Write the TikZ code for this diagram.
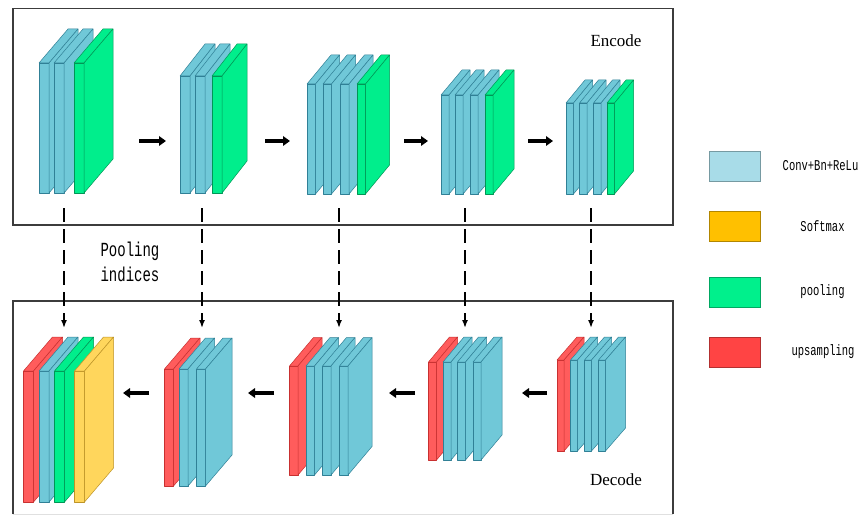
\documentclass[tikz,border=0pt]{standalone}
\usepackage{fontspec}
\setmainfont{Liberation Serif}
\newfontfamily\keyfont{Liberation Mono}
\usetikzlibrary{arrows.meta}

% slab colours
\definecolor{convfill}{RGB}{112,200,216}
\definecolor{convline}{RGB}{48,128,150}
\definecolor{poolfill}{RGB}{0,238,140}
\definecolor{poolline}{RGB}{0,150,85}
\definecolor{upfill}{RGB}{255,92,92}
\definecolor{upline}{RGB}{200,48,48}
\definecolor{softfill}{RGB}{255,214,92}
\definecolor{softline}{RGB}{190,148,40}
% legend colours
\definecolor{keyconv}{RGB}{168,220,232}
\definecolor{keysoft}{RGB}{255,192,0}
\definecolor{keypool}{RGB}{0,240,140}
\definecolor{keyup}{RGB}{255,68,68}
\definecolor{framecol}{RGB}{60,60,60}

\tikzset{
  slabedge/.style={line width=0.5pt, line join=round},
  conv/.style={fill=convfill, draw=convline},
  pool/.style={fill=poolfill, draw=poolline},
  upsm/.style={fill=upfill, draw=upline},
  soft/.style={fill=softfill, draw=softline},
  frame/.style={draw=framecol, line width=1.2pt},
  flow/.style={line width=3.4pt, -{Triangle[length=7pt,width=9.5pt]}},
  indexline/.style={line width=1.5pt, dash pattern=on 14pt off 7pt, -{Latex[length=8pt,width=6pt]}},
  keybox/.style={draw=#1!70!black, fill=#1, line width=0.6pt, minimum width=51pt, minimum height=30pt, inner sep=0pt},
  title/.style={font=\fontsize{17}{17}\selectfont, inner sep=0pt},
  keylabel/.style={inner sep=0pt, align=center},
}

% a thin slab: front face, top face and right face
% #1 left x, #2 thickness, #3 top y, #4 bottom y, #5 depth dx, #6 depth dy, #7 style
\newcommand\drawslab[7]{%
  \filldraw[slabedge,#7] (#1,#3) -- (#1+#2,#3) -- (#1+#2,#4) -- (#1,#4) -- cycle;
  \filldraw[slabedge,#7] (#1,#3) -- ++(#5,-#6) -- ++(#2,0) -- (#1+#2,#3) -- cycle;
  \filldraw[slabedge,#7] (#1+#2,#3) -- ++(#5,-#6) -- ++(0,#4-#3) -- (#1+#2,#4) -- cycle;
}
\newcommand\keytext[2]{\scalebox{0.7}[1]{\keyfont\fontsize{#1}{#1}\selectfont #2}}

\begin{document}
\begin{tikzpicture}[x=1pt,y=-1pt]
\useasboundingbox (0,0) rectangle (862,516);
\fill[white] (0,0) rectangle (862,516);

% frames
\draw[frame] (13,8.5) rectangle (673,225);
\draw[frame] (13,514) -- (13,301) -- (673,301) -- (673,514);
\draw[draw=black!12, line width=1pt] (13,514) -- (673,514);

% ---------- encoder ----------
\drawslab{39}{10}{63}{193}{29}{34}{conv}
\drawslab{54}{10}{63}{193}{29}{34}{conv}
\drawslab{74}{10}{63}{193}{29}{34}{pool}

\drawslab{180}{10}{76}{193}{25}{32}{conv}
\drawslab{195}{10}{76}{193}{25}{32}{conv}
\drawslab{212}{10}{76}{193}{25}{32}{pool}

\drawslab{307}{8.5}{84}{194}{24}{29}{conv}
\drawslab{323}{8.5}{84}{194}{24}{29}{conv}
\drawslab{340.5}{8.5}{84}{194}{24}{29}{conv}
\drawslab{357}{8.5}{84}{194}{24}{29}{pool}

\drawslab{441}{8}{95}{194}{21}{25}{conv}
\drawslab{455}{8}{95}{194}{21}{25}{conv}
\drawslab{470}{8}{95}{194}{21}{25}{conv}
\drawslab{485}{8}{95}{194}{21}{25}{pool}

\drawslab{566}{7.5}{103}{194}{19}{23}{conv}
\drawslab{579.5}{7.5}{103}{194}{19}{23}{conv}
\drawslab{593.5}{7.5}{103}{194}{19}{23}{conv}
\drawslab{607}{7.5}{103}{194}{19}{23}{pool}

% ---------- decoder ----------
\drawslab{23.5}{10}{371}{502}{29}{34}{upsm}
\drawslab{39}{10}{371}{502}{29}{34}{conv}
\drawslab{54.5}{10}{371}{502}{29}{34}{pool}
\drawslab{74.5}{10}{371}{502}{29}{34}{soft}

\drawslab{164.5}{9}{369}{486}{26.5}{31}{upsm}
\drawslab{179}{9}{369}{486}{26.5}{31}{conv}
\drawslab{196.5}{9}{369}{486}{26.5}{31}{conv}

\drawslab{289.5}{8.5}{366}{475}{24}{28.5}{upsm}
\drawslab{306}{8.5}{366}{475}{24}{28.5}{conv}
\drawslab{322.5}{8.5}{366}{475}{24}{28.5}{conv}
\drawslab{339.5}{8.5}{366}{475}{24}{28.5}{conv}

\drawslab{428.5}{8}{362}{460}{21}{25}{upsm}
\drawslab{443}{8}{362}{460}{21}{25}{conv}
\drawslab{457.5}{8}{362}{460}{21}{25}{conv}
\drawslab{473}{8}{362}{460}{21}{25}{conv}

\drawslab{557}{7}{360}{451}{20}{23}{upsm}
\drawslab{570.5}{7}{360}{451}{20}{23}{conv}
\drawslab{584.5}{7}{360}{451}{20}{23}{conv}
\drawslab{598.5}{7}{360}{451}{20}{23}{conv}

% ---------- flow arrows ----------
\coordinate (e1o) at (139,141); \coordinate (e2i) at (166,141);
\coordinate (e2o) at (265,141); \coordinate (e3i) at (290,141);
\coordinate (e3o) at (404,141); \coordinate (e4i) at (428,141);
\coordinate (e4o) at (528,141); \coordinate (e5i) at (553,141);
\draw[flow] (e1o) -- (e2i);
\draw[flow] (e2o) -- (e3i);
\draw[flow] (e3o) -- (e4i);
\draw[flow] (e4o) -- (e5i);

\coordinate (d5o) at (547,393); \coordinate (d4i) at (522,393);
\coordinate (d4o) at (415,393); \coordinate (d3i) at (389,393);
\coordinate (d3o) at (274,393); \coordinate (d2i) at (248,393);
\coordinate (d2o) at (149,393); \coordinate (d1i) at (123,393);
\draw[flow] (d5o) -- (d4i);
\draw[flow] (d4o) -- (d3i);
\draw[flow] (d3o) -- (d2i);
\draw[flow] (d2o) -- (d1i);

% ---------- pooling indices ----------
\foreach \k/\px in {1/64, 2/202, 3/339, 4/465, 5/591}{
  \coordinate (enc\k) at (\px,208);
  \coordinate (dec\k) at (\px,328);
  \draw[indexline] (enc\k) -- (dec\k);
}

% ---------- texts ----------
\node[title] (enctitle) at (616,41) {Encode};
\node[title] (dectitle) at (616,480) {Decode};
\node[keylabel] (pidx) at (130,262) {\keytext{20}{Pooling}\\[5pt]\keytext{20}{indices}};

% ---------- legend ----------
\node[keybox=keyconv] (kconv) at (734.5,166) {};
\node[keybox=keysoft] (ksoft) at (734.5,226) {};
\node[keybox=keypool] (kpool) at (734.5,292) {};
\node[keybox=keyup]   (kup)   at (734.5,352) {};
\node[keylabel] (lconv) at (820.5,165.5) {\keytext{15}{Conv+Bn+ReLu}};
\node[keylabel] (lsoft) at (822.5,226.5) {\keytext{15}{Softmax}};
\node[keylabel] (lpool) at (822.5,291.5) {\keytext{15}{pooling}};
\node[keylabel] (lup)   at (823,351.5)   {\keytext{15}{upsampling}};
\end{tikzpicture}
\end{document}
